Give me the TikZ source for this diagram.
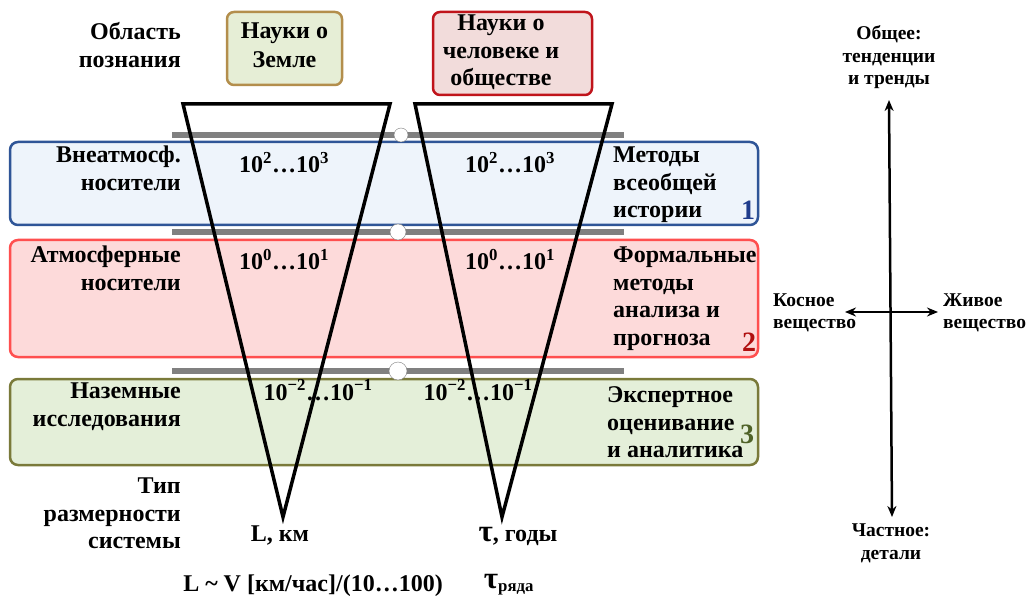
\documentclass[tikz,border=0pt]{standalone}
\usepackage{fontspec}
\setmainfont{Liberation Serif}
\usetikzlibrary{calc}
\usetikzlibrary{arrows.meta}
\definecolor{bargray}{HTML}{808080}
\definecolor{blueedge}{HTML}{2F5597}
\definecolor{bluefill}{HTML}{EEF4FB}
\definecolor{rededge}{HTML}{FF4F4F}
\definecolor{redfill}{HTML}{FDDADA}
\definecolor{greenedge}{HTML}{7A7A3A}
\definecolor{greenfill}{HTML}{E4EFD9}
\definecolor{earthedge}{HTML}{B38E4C}
\definecolor{earthfill}{HTML}{E6EED6}
\definecolor{humedge}{HTML}{C0141B}
\definecolor{humfill}{HTML}{F2DCDB}
\definecolor{numblue}{HTML}{1F3C8C}
\definecolor{numred}{HTML}{B01010}
\definecolor{numgreen}{HTML}{4F6228}
\newcommand{\bigfont}{\bfseries\fontsize{24}{27.5}\selectfont}
\newcommand{\smallfont}{\bfseries\fontsize{19.5}{22.5}\selectfont}
\newcommand{\layerbox}[6]{ \draw[line width=2.5pt, rounded corners=8pt, draw=#5, fill=#6] ( #1 , #2 ) rectangle ( #3 , #4 );}
\newcommand{\slider}[4]{ \draw[line width=6pt, bargray] ( 172 , #1 ) -- ( 624 , #1 ); \node[shape=circle,draw=bargray,fill=white, inner sep=0pt,minimum size=#3] (#4) at ( #2 , #1 ){};}

\begin{document}
\begin{tikzpicture}[x=1pt,y=-1pt,
    lefttxt/.style={anchor=north east, align=right, inner sep=0pt, font=\bigfont},
    righttxt/.style={anchor=north west, align=left, inner sep=0pt, font=\bigfont},
    numtxt/.style={anchor=base, inner sep=0pt, font=\bigfont},
    axistxt/.style={anchor=north, align=center, inner sep=0pt, font=\smallfont},
    tag/.style={anchor=base, inner sep=0pt, font=\bfseries\fontsize{28}{30}\selectfont}]
        \useasboundingbox ( 0 , 0 ) rectangle ( 1026 , 596 );
        \fill[white] ( 0 , 0 ) rectangle ( 1026 , 596 );

        % layers
        \layerbox{10}{142}{758}{225}{blueedge}{bluefill}
        \layerbox{10}{240}{758}{357}{rededge}{redfill}
        \layerbox{10}{379}{758}{465}{greenedge}{greenfill}

        % bars
        \slider{135}{401}{14pt}{c1}
        \slider{232}{398}{16pt}{c2}
        \slider{371}{398}{18pt}{c3}

        % funnels
        \coordinate (fa) at ( 183 , 104 );
        \coordinate (fb) at ( 390 , 104 );
        \coordinate (fc) at ( 283 , 517 );
        \draw[line width=3.5pt, line join=miter] (fa) -- (fb) -- (fc) -- cycle;
        \coordinate (ga) at ( 415 , 104 );
        \coordinate (gb) at ( 612 , 104 );
        \coordinate (gc) at ( 502 , 517 );
        \draw[line width=3.5pt, line join=miter] (ga) -- (gb) -- (gc) -- cycle;

        % top boxes
        \node[draw=earthedge, fill=earthfill, line width=2.5pt, rounded corners=7pt, minimum width=115pt, minimum height=73pt] (earth) at ( 284.5 , 48.5 ){};
        \node[anchor=north, align=center, inner sep=0pt, font=\bfseries\fontsize{24}{29}\selectfont] (earthtxt) at ( 284.5 , 18.5 ){\strut Науки о\\Земле};
        \node[draw=humedge, fill=humfill, line width=2.5pt, rounded corners=7pt, minimum width=159pt, minimum height=83pt] (hum) at ( 512.5 , 53.5 ){};
        \node[anchor=north, align=center, inner sep=0pt, font=\bfseries\fontsize{24}{27.5}\selectfont] (humtxt) at ( 501 , 11.25 ){\strut Науки о\\человеке и\\обществе};

        % left column
        \node[lefttxt] (area) at ( 181 , 20.25 ){\strut Область\\познания};
        \node[lefttxt] (space) at ( 181 , 143.25 ){\strut Внеатмосф.\\носители};
        \node[lefttxt] (air) at ( 181 , 243.25 ){\strut Атмосферные\\носители};
        \node[lefttxt] (ground) at ( 181 , 379.25 ){\strut Наземные\\исследования};
        \node[lefttxt] (kind) at ( 181 , 474.25 ){\strut Тип\\размерности\\системы};

        % right column
        \node[righttxt] (hist) at ( 613 , 143.25 ){\strut Методы\\всеобщей\\истории};
        \node[righttxt] (formal) at ( 613 , 243.25 ){\strut Формальные\\методы\\анализа и\\прогноза};
        \node[righttxt] (expert) at ( 607 , 383.25 ){\strut Экспертное\\оценивание\\и аналитика};
        \node[tag, numblue] (t1) at ( 748 , 220 ){1};
        \node[tag, numred] (t2) at ( 749 , 352 ){2};
        \node[tag, numgreen] (t3) at ( 747 , 443 ){3};

        % scales
        \node[numtxt] (s1a) at ( 284 , 173 ){10\textsuperscript{2}…10\textsuperscript{3}};
        \node[numtxt] (s1b) at ( 510 , 173 ){10\textsuperscript{2}…10\textsuperscript{3}};
        \node[numtxt] (s2a) at ( 284 , 270 ){10\textsuperscript{0}…10\textsuperscript{1}};
        \node[numtxt] (s2b) at ( 510 , 270 ){10\textsuperscript{0}…10\textsuperscript{1}};
        \node[numtxt] (s3a) at ( 318 , 400 ){10\textsuperscript{−2}…10\textsuperscript{−1}};
        \node[numtxt] (s3b) at ( 478 , 400 ){10\textsuperscript{−2}…10\textsuperscript{−1}};

        % units
        \node[numtxt] (len) at ( 280 , 541 ){L, км};
        \node[numtxt] (tau) at ( 518 , 541 ){{\fontsize{31}{31}\selectfont τ}, годы};
        \node[numtxt] (lenrule) at ( 313 , 591 ){L \textasciitilde{} V [км/час]/(10…100)};
        \node[numtxt] (taurule) at ( 509 , 588 ){{\fontsize{31}{31}\selectfont τ}\textsubscript{ряда}};

        % axes
        \coordinate (up) at ( 889 , 100 );
        \coordinate (down) at ( 892 , 517 );
        \coordinate (west) at ( 845 , 312 );
        \coordinate (east) at ( 938 , 312 );
        \draw[line width=2.5pt, {Stealth[length=11pt,width=9pt]}-{Stealth[length=11pt,width=9pt]}] (up) -- (down);
        \draw[line width=2.5pt, {Stealth[length=11pt,width=9pt]}-{Stealth[length=11pt,width=9pt]}] (west) -- (east);
        \node[axistxt] (general) at ( 889 , 24 ){\strut Общее:\\тенденции\\и тренды};
        \node[axistxt, anchor=north west, align=left] (inert) at ( 773 , 290.5 ){\strut Косное\\вещество};
        \node[axistxt, anchor=north west, align=left] (living) at ( 943 , 290.5 ){\strut Живое\\вещество};
        \node[axistxt] (detail) at ( 891 , 521 ){\strut Частное:\\детали};
\end{tikzpicture}
\end{document}
